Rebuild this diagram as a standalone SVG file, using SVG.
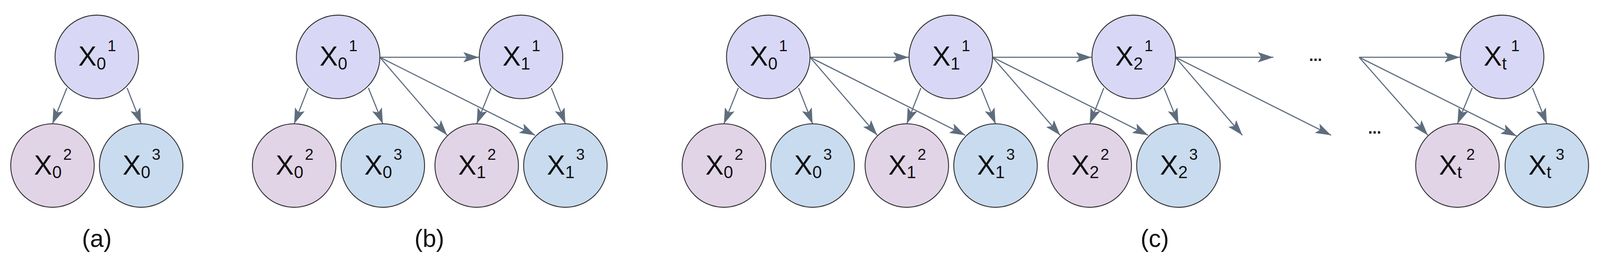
<svg xmlns="http://www.w3.org/2000/svg" width="4326" height="704" viewBox="0 0 4326 704">
<style>
.n1{fill:#d8d8f6;stroke:#333;stroke-width:2.5}
.n2{fill:#e2d4e7;stroke:#333;stroke-width:2.5}
.n3{fill:#c9dbef;stroke:#333;stroke-width:2.5}
text{font-family:"Liberation Sans",Arial,sans-serif;fill:#111}
.m{font-size:74px}
.sb{font-size:46px}
.sp{font-size:42px}
.cap{font-size:66px;text-anchor:middle}
.dots{font-size:42px;font-weight:bold;text-anchor:middle}
#edges line{stroke:#5e6d7e;stroke-width:3;marker-end:url(#ah)}
</style>
<defs>
<marker id="ah" markerUnits="userSpaceOnUse" markerWidth="44" markerHeight="28" refX="42" refY="14" orient="auto">
<path d="M0,0 L42,14 L0,28 L9,14 Z" fill="#5e6d7e"/>
</marker>
</defs>
<g id="all" transform="scale(0.946)">
<g id="edges">
<line x1="181" y1="238" x2="142" y2="335"/>
<line x1="344" y1="238" x2="382" y2="335"/>
<line x1="834" y1="238" x2="796" y2="335"/>
<line x1="997" y1="238" x2="1036" y2="335"/>
<line x1="1028" y1="155" x2="1296" y2="155"/>
<line x1="1028" y1="155" x2="1210" y2="366"/>
<line x1="1028" y1="155" x2="1448" y2="366"/>
<line x1="1329" y1="238" x2="1290" y2="335"/>
<line x1="1492" y1="238" x2="1530" y2="335"/>
<line x1="1998" y1="238" x2="1959" y2="335"/>
<line x1="2161" y1="238" x2="2199" y2="335"/>
<line x1="2192" y1="155" x2="2459" y2="155"/>
<line x1="2192" y1="155" x2="2374" y2="366"/>
<line x1="2192" y1="155" x2="2612" y2="366"/>
<line x1="2492" y1="238" x2="2454" y2="335"/>
<line x1="2655" y1="238" x2="2694" y2="335"/>
<line x1="2686" y1="155" x2="2954" y2="155"/>
<line x1="2686" y1="155" x2="2869" y2="366"/>
<line x1="2686" y1="155" x2="3107" y2="366"/>
<line x1="2987" y1="238" x2="2949" y2="335"/>
<line x1="3150" y1="238" x2="3189" y2="335"/>
<line x1="3181" y1="155" x2="3446" y2="155"/>
<line x1="3181" y1="155" x2="3362" y2="366"/>
<line x1="3181" y1="155" x2="3602" y2="366"/>
<line x1="3678" y1="155" x2="3951" y2="155"/>
<line x1="3678" y1="155" x2="3864" y2="366"/>
<line x1="3678" y1="155" x2="4104" y2="368"/>
<line x1="3984" y1="238" x2="3944" y2="335"/>
<line x1="4147" y1="238" x2="4186" y2="335"/>
</g>
<g id="a01"><circle class="n1" cx="262" cy="154" r="113"/><text class="m" x="212" y="178">X<tspan class="sb" dy="10">0</tspan><tspan class="sp" dx="4" dy="-50">1</tspan></text></g>
<g id="a02"><circle class="n2" cx="142" cy="448" r="113"/><text class="m" x="92" y="472">X<tspan class="sb" dy="10">0</tspan><tspan class="sp" dx="4" dy="-50">2</tspan></text></g>
<g id="a03"><circle class="n3" cx="382" cy="448" r="113"/><text class="m" x="332" y="472">X<tspan class="sb" dy="10">0</tspan><tspan class="sp" dx="4" dy="-50">3</tspan></text></g>
<g id="b01"><circle class="n1" cx="915" cy="154" r="113"/><text class="m" x="865" y="178">X<tspan class="sb" dy="10">0</tspan><tspan class="sp" dx="4" dy="-50">1</tspan></text></g>
<g id="b02"><circle class="n2" cx="796" cy="448" r="113"/><text class="m" x="746" y="472">X<tspan class="sb" dy="10">0</tspan><tspan class="sp" dx="4" dy="-50">2</tspan></text></g>
<g id="b03"><circle class="n3" cx="1036" cy="448" r="113"/><text class="m" x="986" y="472">X<tspan class="sb" dy="10">0</tspan><tspan class="sp" dx="4" dy="-50">3</tspan></text></g>
<g id="b11"><circle class="n1" cx="1410" cy="154" r="113"/><text class="m" x="1360" y="178">X<tspan class="sb" dy="10">1</tspan><tspan class="sp" dx="4" dy="-50">1</tspan></text></g>
<g id="b12"><circle class="n2" cx="1290" cy="448" r="113"/><text class="m" x="1240" y="472">X<tspan class="sb" dy="10">1</tspan><tspan class="sp" dx="4" dy="-50">2</tspan></text></g>
<g id="b13"><circle class="n3" cx="1530" cy="448" r="113"/><text class="m" x="1480" y="472">X<tspan class="sb" dy="10">1</tspan><tspan class="sp" dx="4" dy="-50">3</tspan></text></g>
<g id="c01"><circle class="n1" cx="2079" cy="154" r="113"/><text class="m" x="2029" y="178">X<tspan class="sb" dy="10">0</tspan><tspan class="sp" dx="4" dy="-50">1</tspan></text></g>
<g id="c02"><circle class="n2" cx="1959" cy="448" r="113"/><text class="m" x="1909" y="472">X<tspan class="sb" dy="10">0</tspan><tspan class="sp" dx="4" dy="-50">2</tspan></text></g>
<g id="c03"><circle class="n3" cx="2199" cy="448" r="113"/><text class="m" x="2149" y="472">X<tspan class="sb" dy="10">0</tspan><tspan class="sp" dx="4" dy="-50">3</tspan></text></g>
<g id="c11"><circle class="n1" cx="2573" cy="154" r="113"/><text class="m" x="2523" y="178">X<tspan class="sb" dy="10">1</tspan><tspan class="sp" dx="4" dy="-50">1</tspan></text></g>
<g id="c12"><circle class="n2" cx="2454" cy="448" r="113"/><text class="m" x="2404" y="472">X<tspan class="sb" dy="10">1</tspan><tspan class="sp" dx="4" dy="-50">2</tspan></text></g>
<g id="c13"><circle class="n3" cx="2694" cy="448" r="113"/><text class="m" x="2644" y="472">X<tspan class="sb" dy="10">1</tspan><tspan class="sp" dx="4" dy="-50">3</tspan></text></g>
<g id="c21"><circle class="n1" cx="3068" cy="154" r="113"/><text class="m" x="3018" y="178">X<tspan class="sb" dy="10">2</tspan><tspan class="sp" dx="4" dy="-50">1</tspan></text></g>
<g id="c22"><circle class="n2" cx="2949" cy="448" r="113"/><text class="m" x="2899" y="472">X<tspan class="sb" dy="10">2</tspan><tspan class="sp" dx="4" dy="-50">2</tspan></text></g>
<g id="c23"><circle class="n3" cx="3189" cy="448" r="113"/><text class="m" x="3139" y="472">X<tspan class="sb" dy="10">2</tspan><tspan class="sp" dx="4" dy="-50">3</tspan></text></g>
<g id="ct1"><circle class="n1" cx="4065" cy="154" r="113"/><text class="m" x="4015" y="178">X<tspan class="sb" dy="10">t</tspan><tspan class="sp" dx="12" dy="-50">1</tspan></text></g>
<g id="ct2"><circle class="n2" cx="3944" cy="448" r="113"/><text class="m" x="3894" y="472">X<tspan class="sb" dy="10">t</tspan><tspan class="sp" dx="12" dy="-50">2</tspan></text></g>
<g id="ct3"><circle class="n3" cx="4186" cy="448" r="113"/><text class="m" x="4136" y="472">X<tspan class="sb" dy="10">t</tspan><tspan class="sp" dx="12" dy="-50">3</tspan></text></g>
<text class="dots" x="3560" y="165">...</text>
<text class="dots" x="3720" y="362">...</text>
<text class="cap" x="262" y="668">(a)</text>
<text class="cap" x="1162" y="668">(b)</text>
<text class="cap" x="3125" y="668">(c)</text>
</g>
</svg>
